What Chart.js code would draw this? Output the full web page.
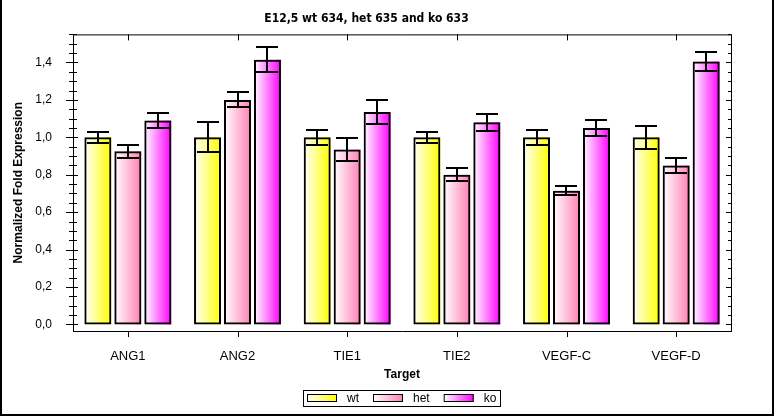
<!DOCTYPE html>
<html>
<head>
<meta charset="utf-8">
<script src="https://cdn.jsdelivr.net/npm/chart.js@4.4.1/dist/chart.umd.min.js"></script>
<style>
  html, body { margin: 0; padding: 0; background: #fff; }
  #wrap { width: 774px; height: 416px; position: relative; }
</style>
</head>
<body>
<div id="wrap"><canvas id="chart" width="774" height="416"></canvas></div>
<script>
  // Data
  const targets = ['ANG1', 'ANG2', 'TIE1', 'TIE2', 'VEGF-C', 'VEGF-D'];
  const seriesNames = ['wt', 'het', 'ko'];
  const wtValues = [1.00, 1.00, 1.00, 1.00, 1.00, 1.00];
  const hetValues = [0.925, 1.20, 0.935, 0.80, 0.715, 0.85];
  const koValues = [1.09, 1.415, 1.135, 1.08, 1.05, 1.405];
  const wtErrors = [0.03, 0.08, 0.04, 0.03, 0.04, 0.06];
  const hetErrors = [0.035, 0.04, 0.06, 0.035, 0.025, 0.04];
  const koErrors = [0.04, 0.065, 0.065, 0.045, 0.045, 0.05];
  const yTicks = [0, 0.2, 0.4, 0.6, 0.8, 1.0, 1.2, 1.4];
  const yMinorStep = 0.05;

  const seriesColors = ['#ffff00', '#ff80b4', '#ff00ff'];
  const errorSets = [wtErrors, hetErrors, koErrors];
  const labelFont = '12px "Liberation Sans", Arial, sans-serif';

  function barGradient(ctx, left, right, color) {
    const g = ctx.createLinearGradient(left, 0, right, 0);
    g.addColorStop(0, '#ffffff');
    g.addColorStop(1, color);
    return g;
  }

  // fills each bar with a white -> colour gradient before borders are drawn,
  // then adds the error bars on top
  const gradientBars = {
    id: 'gradientBars',
    beforeDatasetsDraw(chart) {
      const ctx = chart.ctx;
      chart.data.datasets.forEach((ds, i) => {
        const meta = chart.getDatasetMeta(i);
        meta.data.forEach(bar => {
          const left = bar.x - bar.width / 2;
          const right = bar.x + bar.width / 2;
          ctx.save();
          ctx.fillStyle = barGradient(ctx, left, right, seriesColors[i]);
          ctx.fillRect(left, Math.min(bar.y, bar.base), bar.width, Math.abs(bar.base - bar.y));
          ctx.restore();
        });
      });
    },
    afterDatasetsDraw(chart) {
      const ctx = chart.ctx;
      const y = chart.scales.y;
      ctx.save();
      ctx.strokeStyle = '#000';
      ctx.lineWidth = 2;
      chart.data.datasets.forEach((ds, i) => {
        const meta = chart.getDatasetMeta(i);
        meta.data.forEach((bar, j) => {
          const v = ds.data[j];
          const e = errorSets[i][j];
          const top = Math.round(y.getPixelForValue(v + e));
          const bottom = Math.round(y.getPixelForValue(v - e));
          const cx = Math.round(bar.x);
          ctx.beginPath();
          ctx.moveTo(cx, top); ctx.lineTo(cx, bottom);
          ctx.moveTo(cx - 11, top); ctx.lineTo(cx + 11, top);
          ctx.moveTo(cx - 11, bottom); ctx.lineTo(cx + 11, bottom);
          ctx.stroke();
        });
      });
      ctx.restore();
    }
  };

  // frame, tick marks, legend, outer border
  const frame = {
    id: 'frame',
    afterDraw(chart) {
      const ctx = chart.ctx;
      const a = chart.chartArea;
      const x = chart.scales.x;
      const y = chart.scales.y;
      ctx.save();
      ctx.strokeStyle = '#000';
      ctx.lineWidth = 1;
      ctx.beginPath();
      // top and right edges of the plot frame
      ctx.moveTo(a.left, a.top + 0.5); ctx.lineTo(a.right + 0.5, a.top + 0.5);
      ctx.moveTo(a.right + 0.5, a.top); ctx.lineTo(a.right + 0.5, a.bottom);
      // y ticks: major cross the axis, minor smaller; right side points inward
      for (let v = 0; v <= y.max + 1e-9; v += yMinorStep) {
        const py = Math.round(y.getPixelForValue(v)) + 0.5;
        const major = Math.abs(v * 5 - Math.round(v * 5)) < 1e-6;
        ctx.moveTo(a.left - (major ? 7 : 4), py); ctx.lineTo(a.left + (major ? 5 : 4), py);
        ctx.moveTo(a.right - (major ? 5 : 3), py); ctx.lineTo(a.right, py);
      }
      // x ticks at category centres, bottom and top
      targets.forEach((t, i) => {
        const px = Math.round(x.getPixelForValue(i)) + 0.5;
        ctx.moveTo(px, a.bottom); ctx.lineTo(px, a.bottom + 6);
        ctx.moveTo(px, a.top); ctx.lineTo(px, a.top + 6);
      });
      ctx.stroke();

      // legend: gradient swatch + label, boxed, centred under the plot
      ctx.font = labelFont;
      const boxW = 30, boxH = 8, gapText = 10, gapItem = 14, pad = 4;
      const widths = seriesNames.map(n => ctx.measureText(n).width);
      let total = pad * 2;
      widths.forEach((w, i) => { total += boxW + gapText + w + (i < widths.length - 1 ? gapItem : 0); });
      const cy = 398;
      let lx = Math.round((a.left + a.right) / 2 - total / 2);
      ctx.strokeRect(lx + 0.5, cy - 8 + 0.5, Math.round(total), 16);
      lx += pad;
      seriesNames.forEach((n, i) => {
        ctx.fillStyle = barGradient(ctx, lx, lx + boxW, seriesColors[i]);
        ctx.fillRect(lx, cy - 4, boxW, boxH);
        ctx.strokeRect(lx + 0.5, cy - 4 + 0.5, boxW - 1, boxH - 1);
        ctx.fillStyle = '#000';
        ctx.textBaseline = 'middle';
        ctx.textAlign = 'left';
        ctx.fillText(n, lx + boxW + gapText, cy + 1);
        lx += boxW + gapText + widths[i] + gapItem;
      });

      // outer image border
      ctx.fillStyle = '#000';
      ctx.fillRect(0, 0, 2, chart.height);
      ctx.fillRect(chart.width - 2, 0, 2, chart.height);
      ctx.fillRect(0, chart.height - 2, chart.width, 2);
      ctx.restore();
    }
  };

  const makeSet = (label, data) => ({
    label: label,
    data: data,
    backgroundColor: 'rgba(0,0,0,0)',
    borderColor: '#000',
    borderWidth: 2,
    borderSkipped: false,
    categoryPercentage: 0.82,
    barPercentage: 0.9
  });

  new Chart(document.getElementById('chart'), {
    type: 'bar',
    data: {
      labels: targets,
      datasets: [
        makeSet(seriesNames[0], wtValues),
        makeSet(seriesNames[1], hetValues),
        makeSet(seriesNames[2], koValues)
      ]
    },
    options: {
      responsive: false,
      animation: false,
      layout: { padding: { left: 2, right: 43, top: 0, bottom: 31 } },
      plugins: {
        title: {
          display: true,
          text: 'E12,5 wt 634, het 635 and ko 633',
          color: '#000',
          font: { family: '"DejaVu Sans Condensed", "Liberation Sans Narrow", Arial, sans-serif', size: 12, weight: 'bold' },
          padding: { top: 12, bottom: 8 }
        },
        legend: { display: false },
        tooltip: { enabled: false }
      },
      scales: {
        x: {
          afterFit(scale) { scale.height = 54; },
          grid: { display: true, drawOnChartArea: false, drawTicks: false, offset: false },
          border: { color: '#000', width: 1 },
          ticks: { color: '#000', padding: 18, font: { family: '"Liberation Sans", Arial, sans-serif', size: 13 } },
          title: {
            display: true,
            text: 'Target',
            color: '#000',
            font: { family: '"Liberation Sans", Arial, sans-serif', size: 12, weight: 'bold' },
            padding: { top: 4, bottom: 3 }
          }
        },
        y: {
          min: -0.035,
          max: 1.55,
          afterFit(scale) { scale.width = 71; },
          afterBuildTicks(scale) { scale.ticks = yTicks.map(v => ({ value: v })); },
          grid: { display: false },
          border: { color: '#000', width: 1 },
          ticks: {
            color: '#000',
            padding: 13,
            font: { family: '"Liberation Sans", Arial, sans-serif', size: 12 },
            callback: v => v.toFixed(1).replace('.', ',')
          },
          title: {
            display: true,
            text: 'Normalized Fold Expression',
            color: '#000',
            font: { family: '"Liberation Sans", Arial, sans-serif', size: 12, weight: 'bold' },
            padding: { top: 9, bottom: 0 }
          }
        }
      }
    },
    plugins: [gradientBars, frame]
  });
</script>
</body>
</html>
